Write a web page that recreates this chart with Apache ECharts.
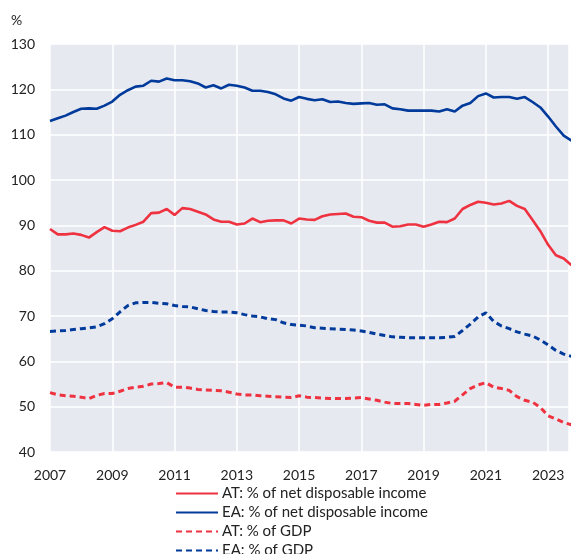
<!DOCTYPE html>
<html>
<head>
<meta charset="utf-8">
<title>Household debt</title>
<script src="https://cdn.jsdelivr.net/npm/echarts@6/dist/echarts.min.js"></script>
<style>
  html, body { margin: 0; padding: 0; background: #fff; }
  #chart { width: 572px; height: 554px; }
</style>
</head>
<body>
<div id="chart"></div>
<script>
// quarterly values, first point = 2007 Q1
var startYear = 2007;
var yearTicks = [2007, 2009, 2011, 2013, 2015, 2017, 2019, 2021, 2023];

var atIncome = [89.2, 88.0, 88.0, 88.2, 87.9, 87.3, 88.5, 89.6, 88.8, 88.7, 89.5, 90.1,
  90.8, 92.7, 92.8, 93.6, 92.3, 93.8, 93.6, 93.0, 92.4, 91.3, 90.8, 90.8,
  90.2, 90.4, 91.5, 90.7, 91.0, 91.1, 91.1, 90.4, 91.5, 91.3, 91.2, 92.0,
  92.4, 92.5, 92.6, 91.9, 91.8, 91.0, 90.6, 90.6, 89.7, 89.8, 90.2, 90.2,
  89.7, 90.2, 90.8, 90.7, 91.5, 93.6, 94.5, 95.2, 95.0, 94.6, 94.8, 95.4,
  94.3, 93.6, 91.2, 88.7, 85.7, 83.4, 82.7, 81.2];

var eaIncome = [113.0, 113.6, 114.2, 115.0, 115.7, 115.8, 115.7, 116.4, 117.3, 118.8, 119.8, 120.6,
  120.8, 121.9, 121.7, 122.4, 122.0, 122.0, 121.8, 121.3, 120.4, 120.9, 120.2, 121.0,
  120.8, 120.4, 119.7, 119.7, 119.4, 118.9, 118.0, 117.5, 118.3, 117.9, 117.6, 117.8,
  117.2, 117.3, 117.0, 116.8, 116.9, 117.0, 116.6, 116.7, 115.8, 115.6, 115.3, 115.3,
  115.3, 115.3, 115.1, 115.6, 115.1, 116.4, 117.0, 118.5, 119.1, 118.2, 118.3, 118.3,
  117.9, 118.3, 117.2, 116.0, 114.0, 111.8, 109.8, 108.7];

var atGdp = [53.1, 52.6, 52.4, 52.3, 52.1, 51.8, 52.5, 52.9, 52.9, 53.4, 54.0, 54.3,
  54.5, 55.0, 55.1, 55.3, 54.3, 54.3, 54.1, 53.8, 53.7, 53.6, 53.5, 53.2,
  52.8, 52.6, 52.6, 52.4, 52.3, 52.2, 52.1, 52.0, 52.4, 52.1, 52.0, 51.9,
  51.8, 51.8, 51.8, 51.9, 52.0, 51.7, 51.4, 51.0, 50.7, 50.7, 50.7, 50.5,
  50.3, 50.5, 50.5, 50.8, 51.2, 52.6, 54.0, 54.8, 55.3, 54.3, 54.0, 53.6,
  52.2, 51.4, 51.0, 49.8, 48.0, 47.3, 46.5, 46.0];

var eaGdp = [66.6, 66.7, 66.8, 67.0, 67.2, 67.4, 67.6, 68.3, 69.4, 70.9, 72.3, 72.9,
  73.0, 73.0, 72.8, 72.7, 72.3, 72.1, 72.0, 71.6, 71.2, 71.0, 70.9, 70.9,
  70.7, 70.3, 70.0, 69.8, 69.4, 69.2, 68.5, 68.1, 68.0, 67.8, 67.4, 67.3,
  67.2, 67.1, 67.0, 66.9, 66.7, 66.4, 66.0, 65.7, 65.4, 65.3, 65.2, 65.2,
  65.2, 65.2, 65.2, 65.3, 65.5, 66.8, 68.2, 69.8, 70.7, 68.8, 67.8, 67.2,
  66.5, 66.0, 65.6, 64.7, 63.6, 62.4, 61.6, 61.1];

var seriesNames = ['AT: % of net disposable income', 'EA: % of net disposable income',
  'AT: % of GDP', 'EA: % of GDP'];

var red = '#ee3240';
var blue = '#003a9b';
var font = 'Lato, "Open Sans", sans-serif';

function toPoints(values) {
  return values.map(function (v, i) {
    return [startYear + i / 4, v];
  });
}

function makeSeries(name, values, color, dashed) {
  return {
    name: name,
    type: 'line',
    data: toPoints(values),
    symbol: 'none',
    clip: true,
    lineStyle: {
      color: color,
      width: dashed ? 3 : 2.6,
      type: dashed ? [6, 4] : 'solid'
    },
    itemStyle: { color: color }
  };
}

var myChart = echarts.init(document.getElementById('chart'), null, { renderer: 'canvas' });

var option = {
  animation: false,
  textStyle: { fontFamily: font },
  grid: {
    left: 50,
    right: 0,
    top: 44,
    bottom: 102,
    show: true,
    backgroundColor: '#e7e9f1',
    borderWidth: 0
  },
  graphic: [{
    type: 'text',
    left: 11,
    top: 13,
    style: { text: '%', font: '14px ' + font, fill: '#222' }
  }],
  legend: {
    data: seriesNames,
    orient: 'vertical',
    left: 175,
    top: 486,
    height: 100,
    padding: 0,
    itemWidth: 42,
    itemHeight: 14,
    itemGap: 4,
    itemStyle: { opacity: 0 },
    textStyle: { fontSize: 15, color: '#222', fontFamily: font, padding: [0, 0, 0, -1] }
  },
  xAxis: {
    type: 'value',
    min: 2007,
    max: 2023.67,
    interval: 2,
    axisLine: { show: false },
    axisTick: { show: false },
    axisLabel: {
      color: '#222',
      fontSize: 14,
      margin: 16,
      formatter: function (v) {
        return yearTicks.indexOf(v) >= 0 ? String(v) : '';
      }
    },
    splitLine: { show: true, lineStyle: { color: '#ffffff', width: 1.5 } }
  },
  yAxis: {
    type: 'value',
    min: 40,
    max: 130,
    interval: 10,
    axisLine: { show: false },
    axisTick: { show: false },
    axisLabel: { color: '#222', fontSize: 14, margin: 15 },
    splitLine: { show: true, lineStyle: { color: '#ffffff', width: 1.5 } }
  },
  series: [
    makeSeries(seriesNames[0], atIncome, red, false),
    makeSeries(seriesNames[1], eaIncome, blue, false),
    makeSeries(seriesNames[2], atGdp, red, true),
    makeSeries(seriesNames[3], eaGdp, blue, true)
  ]
};

myChart.setOption(option);
</script>
</body>
</html>
